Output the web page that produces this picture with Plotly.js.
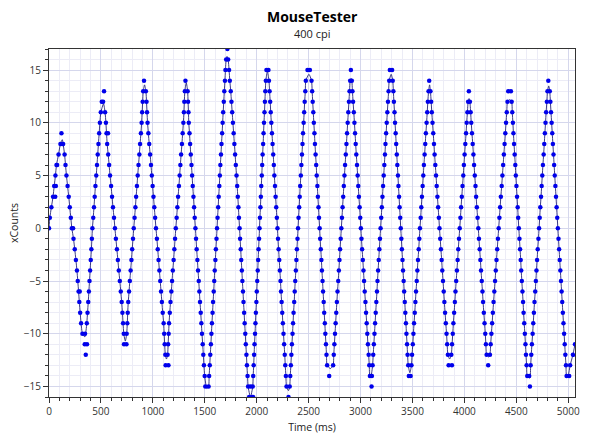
<!DOCTYPE html>
<html>
<head>
<meta charset="utf-8">
<script src="https://cdn.plot.ly/plotly-3.0.1.min.js"></script>
<style>html,body{margin:0;padding:0;background:#fff;}#chart{width:590px;height:442px;}</style>
</head>
<body>
<div id="chart"></div>
<script>
// Main dots along each edge of the wave (ms, counts), one per count level
const edgeTime = [
  0,8,23,39,50,62,72,92,110,
  136,150,159,168,179,190,200,210,220,236,248,259,269,277,285,292,300,309,322,
  364,371,378,384,390,396,402,408,413,418,426,433,440,447,455,462,469,476,483,490,499,
  540,548,554,560,570,579,588,598,607,616,626,635,644,654,663,672,682,691,700,707,713,720,
  748,754,758,763,771,778,786,794,801,809,816,824,832,839,847,854,862,870,877,885,892,897,902,907,
  933,939,944,949,957,965,974,982,990,998,1006,1014,1022,1030,1039,1047,1055,1063,1071,1079,1087,1095,1104,1109,1114,1120,
  1142,1147,1152,1156,1163,1170,1178,1185,1192,1200,1207,1214,1221,1229,1236,1243,1251,1258,1265,1272,1280,1287,1294,1299,1303,1308,
  1335,1339,1343,1346,1353,1359,1365,1372,1378,1384,1391,1397,1403,1410,1416,1422,1429,1435,1442,1448,1454,1461,1467,1473,1480,1486,1492,1499,
  1537,1542,1548,1553,1559,1564,1569,1575,1580,1586,1591,1596,1602,1607,1613,1618,1623,1629,1634,1640,1645,1650,1656,1661,1667,1672,1677,1683,1688,1694,1699,1706,
  1725,1734,1741,1750,1757,1764,1771,1778,1785,1792,1799,1806,1812,1818,1824,1829,1835,1840,1846,1851,1857,1862,1868,1873,1879,1884,1890,1895,1901,1906,1912,1917,
  1962,1966,1971,1975,1979,1984,1988,1992,1997,2001,2005,2010,2014,2018,2023,2027,2031,2036,2040,2044,2049,2053,2057,2062,2066,2070,2075,2079,2083,2088,
  2118,2124,2130,2135,2141,2147,2153,2159,2165,2170,2176,2182,2188,2194,2200,2205,2211,2217,2223,2229,2234,2240,2246,2252,2258,2264,2270,2275,2281,2287,
  2318,2323,2329,2334,2339,2345,2350,2355,2361,2366,2371,2377,2382,2387,2393,2398,2403,2409,2414,2419,2425,2430,2436,2441,2446,2452,2457,2462,2468,2473,
  2528,2534,2539,2545,2550,2556,2561,2567,2573,2578,2584,2589,2595,2600,2606,2611,2617,2623,2628,2634,2639,2645,2650,2656,2661,2667,2672,2678,
  2736,2742,2748,2754,2760,2766,2772,2778,2785,2791,2797,2803,2809,2815,2821,2827,2833,2839,2845,2851,2858,2864,2870,2876,2882,2888,2894,2900,
  2916,2922,2928,2935,2941,2947,2953,2959,2966,2972,2978,2984,2991,2997,3003,3009,3015,3022,3028,3034,3040,3047,3053,3059,3065,3071,3078,3084,3090,
  3116,3122,3128,3134,3140,3146,3152,3158,3163,3169,3175,3181,3187,3193,3199,3205,3211,3217,3223,3229,3235,3240,3246,3252,3258,3264,3270,3276,
  3310,3316,3321,3327,3332,3338,3343,3349,3354,3360,3365,3371,3376,3382,3387,3393,3398,3404,3409,3415,3420,3426,3431,3437,3442,3448,3453,3459,
  3490,3496,3503,3509,3515,3522,3528,3534,3541,3547,3553,3560,3566,3572,3579,3585,3591,3598,3604,3610,3617,3623,3629,3636,3642,3648,3655,
  3673,3680,3686,3693,3700,3707,3713,3720,3727,3733,3740,3747,3754,3760,3767,3774,3781,3787,3794,3801,3807,3814,3821,3828,3834,3841,
  3874,3881,3888,3894,3901,3908,3914,3921,3928,3935,3941,3948,3955,3962,3968,3975,3982,3989,3995,4002,4009,4016,4022,4029,4036,
  4053,4060,4066,4073,4080,4087,4093,4100,4107,4113,4120,4127,4134,4140,4147,4154,4160,4167,4174,4180,4187,4194,4201,4207,4214,
  4246,4253,4260,4267,4274,4281,4288,4295,4302,4309,4316,4323,4330,4337,4344,4351,4359,4366,4373,4380,4387,4394,4401,4408,4415,
  4455,4461,4467,4472,4478,4484,4490,4495,4501,4507,4513,4518,4524,4530,4536,4542,4547,4553,4559,4565,4570,4576,4582,4588,4593,4599,4605,
  4638,4644,4650,4657,4663,4669,4675,4682,4688,4694,4700,4706,4713,4719,4725,4731,4738,4744,4750,4756,4763,4769,4775,4781,4787,4794,4800,
  4822,4828,4834,4840,4846,4852,4858,4864,4870,4876,4882,4888,4894,4900,4906,4912,4918,4924,4930,4936,4942,4948,4954,4960,4966,4972,4978,4984,
  5018,5045,5065
];
const edgeCount = [
  0,1,2,3,4,5,6,7,8,
  8,7,6,5,4,3,2,1,0,-1,-2,-3,-4,-5,-6,-7,-8,-9,-10,
  -9,-8,-7,-6,-5,-4,-3,-2,-1,0,1,2,3,4,5,6,7,8,9,10,11,
  11,10,9,8,7,6,5,4,3,2,1,0,-1,-2,-3,-4,-5,-6,-7,-8,-9,-10,
  -10,-9,-8,-7,-6,-5,-4,-3,-2,-1,0,1,2,3,4,5,6,7,8,9,10,11,12,13,
  13,12,11,10,9,8,7,6,5,4,3,2,1,0,-1,-2,-3,-4,-5,-6,-7,-8,-9,-10,-11,-12,
  -12,-11,-10,-9,-8,-7,-6,-5,-4,-3,-2,-1,0,1,2,3,4,5,6,7,8,9,10,11,12,13,
  13,12,11,10,9,8,7,6,5,4,3,2,1,0,-1,-2,-3,-4,-5,-6,-7,-8,-9,-10,-11,-12,-13,-14,
  -15,-14,-13,-12,-11,-10,-9,-8,-7,-6,-5,-4,-3,-2,-1,0,1,2,3,4,5,6,7,8,9,10,11,12,13,14,15,16,
  16,15,14,13,12,11,10,9,8,7,6,5,4,3,2,1,0,-1,-2,-3,-4,-5,-6,-7,-8,-9,-10,-11,-12,-13,-14,-15,
  -15,-14,-13,-12,-11,-10,-9,-8,-7,-6,-5,-4,-3,-2,-1,0,1,2,3,4,5,6,7,8,9,10,11,12,13,14,
  14,13,12,11,10,9,8,7,6,5,4,3,2,1,0,-1,-2,-3,-4,-5,-6,-7,-8,-9,-10,-11,-12,-13,-14,-15,
  -15,-14,-13,-12,-11,-10,-9,-8,-7,-6,-5,-4,-3,-2,-1,0,1,2,3,4,5,6,7,8,9,10,11,12,13,14,
  14,13,12,11,10,9,8,7,6,5,4,3,2,1,0,-1,-2,-3,-4,-5,-6,-7,-8,-9,-10,-11,-12,-13,
  -13,-12,-11,-10,-9,-8,-7,-6,-5,-4,-3,-2,-1,0,1,2,3,4,5,6,7,8,9,10,11,12,13,14,
  14,13,12,11,10,9,8,7,6,5,4,3,2,1,0,-1,-2,-3,-4,-5,-6,-7,-8,-9,-10,-11,-12,-13,-14,
  -13,-12,-11,-10,-9,-8,-7,-6,-5,-4,-3,-2,-1,0,1,2,3,4,5,6,7,8,9,10,11,12,13,14,
  14,13,12,11,10,9,8,7,6,5,4,3,2,1,0,-1,-2,-3,-4,-5,-6,-7,-8,-9,-10,-11,-12,-13,
  -13,-12,-11,-10,-9,-8,-7,-6,-5,-4,-3,-2,-1,0,1,2,3,4,5,6,7,8,9,10,11,12,13,
  13,12,11,10,9,8,7,6,5,4,3,2,1,0,-1,-2,-3,-4,-5,-6,-7,-8,-9,-10,-11,-12,
  -12,-11,-10,-9,-8,-7,-6,-5,-4,-3,-2,-1,0,1,2,3,4,5,6,7,8,9,10,11,12,
  12,11,10,9,8,7,6,5,4,3,2,1,0,-1,-2,-3,-4,-5,-6,-7,-8,-9,-10,-11,-12,
  -12,-11,-10,-9,-8,-7,-6,-5,-4,-3,-2,-1,0,1,2,3,4,5,6,7,8,9,10,11,12,
  12,11,10,9,8,7,6,5,4,3,2,1,0,-1,-2,-3,-4,-5,-6,-7,-8,-9,-10,-11,-12,-13,-14,
  -13,-12,-11,-10,-9,-8,-7,-6,-5,-4,-3,-2,-1,0,1,2,3,4,5,6,7,8,9,10,11,12,13,
  13,12,11,10,9,8,7,6,5,4,3,2,1,0,-1,-2,-3,-4,-5,-6,-7,-8,-9,-10,-11,-12,-13,-14,
  -13,-12,-11
];

// Extra dots: repeats and outliers around the peaks and troughs
const extraTime = [60,66,78,120,127,232,296, 347,344,366,354, 508,521,530,568, 722,746, 915, 1123,1150, 1314, 1505, 1718,
  1927,1940,1956,1965, 2094,2113, 2306, 2489,2512, 2698, 2907, 3106,3109, 3282,3304, 3465,3482, 3661, 3848,3880,
  4043, 4229, 4422,4448, 4624,4631, 4808, 5009];
const extraCount = [3,4,6,9,8,0,-6, -10,-11,-11,-12, 12,12,13,9, -11,-11, 14, -13,-13, 14, -15, 17,
  -16,-15,-16,-16, 15,15, -16, 15,15, -14, 15, -15,-14, 15,15, -14,-14, 14, -13,-13,
  13, -13, 13,13, -14,-15, 14, -14];

// Turning points of the fitted curve (line only)
const tipTime = [128,345,525,735,920,1131,1322,1520,1714,1940,2103,2306,2503,2710,2910,3100,3295,3475,3665,3858,4045,4235,4436,4630,4812,5000];
const tipCount = [8.4,-10.3,11.8,-10.7,13.6,-12.4,13.8,-15.2,16.3,-16.0,14.9,-15.4,14.6,-13.3,14.2,-14.0,14.6,-13.7,13.6,-12.4,12.3,-12.2,12.2,-14.2,13.5,-13.9];

const chartTitle = 'MouseTester';
const chartSubtitle = '400 cpi';
const xTitle = 'Time (ms)';
const yTitle = 'xCounts';

if (edgeTime.length !== edgeCount.length) throw new Error('edge length mismatch ' + edgeTime.length + ' vs ' + edgeCount.length);
if (extraTime.length !== extraCount.length) throw new Error('extra length mismatch');

// fitted curve table = edge dots + turning points, ordered by time
const curve = edgeTime.map((t, i) => [t, edgeCount[i]])
  .concat(tipTime.map((t, i) => [t, tipCount[i]]))
  .sort((a, b) => a[0] - b[0]);

const font = '"Open Sans", "Noto Sans", "DejaVu Sans", sans-serif';

const traces = [
  {
    x: curve.map(p => p[0]), y: curve.map(p => p[1]),
    type: 'scatter', mode: 'lines',
    line: {color: 'rgba(25,25,110,0.85)', width: 1, shape: 'spline', smoothing: 0.6},
    hoverinfo: 'skip'
  },
  {
    x: edgeTime.concat(extraTime), y: edgeCount.concat(extraCount),
    type: 'scatter', mode: 'markers',
    marker: {color: 'rgb(0,0,235)', size: 4.5, line: {width: 0}}
  }
];

const axisCommon = {
  ticks: 'outside', ticklen: 5, tickwidth: 1, tickcolor: '#333',
  showline: true, linecolor: '#333', linewidth: 1, mirror: true,
  showgrid: true, gridcolor: '#d5d7ec', gridwidth: 1,
  zeroline: false, automargin: false,
  tickfont: {family: font, size: 10, color: '#333'}
};

const layout = {
  width: 590, height: 442,
  margin: {l: 49, r: 15, t: 49, b: 45, pad: 0},
  paper_bgcolor: '#ffffff', plot_bgcolor: '#ffffff',
  font: {family: font, size: 10, color: '#333'},
  showlegend: false,
  xaxis: Object.assign({}, axisCommon, {
    range: [0, 5065], tick0: 0, dtick: 500,
    minor: {dtick: 100, ticks: 'outside', ticklen: 3, tickcolor: '#333', showgrid: true, gridcolor: '#ececf6', gridwidth: 1},
    title: {text: xTitle, font: {family: font, size: 10.5, color: '#222'}, standoff: 6}
  }),
  yaxis: Object.assign({}, axisCommon, {
    range: [-16, 17], tick0: 0, dtick: 5,
    minor: {dtick: 1, ticks: 'outside', ticklen: 3, tickcolor: '#333', showgrid: true, gridcolor: '#ececf6', gridwidth: 1},
    title: {text: yTitle, font: {family: font, size: 10.5, color: '#222'}, standoff: 3}
  }),
  annotations: [
    {text: '<b>' + chartTitle + '</b>', xref: 'paper', yref: 'paper', x: 0.5, y: (397 - 17) / 348,
     xanchor: 'center', yanchor: 'middle', showarrow: false, font: {family: font, size: 14, color: '#000'}},
    {text: chartSubtitle, xref: 'paper', yref: 'paper', x: 0.5, y: (397 - 34) / 348,
     xanchor: 'center', yanchor: 'middle', showarrow: false, font: {family: font, size: 11, color: '#222'}}
  ]
};

Plotly.newPlot('chart', traces, layout, {staticPlot: true, displayModeBar: false});
</script>
</body>
</html>
